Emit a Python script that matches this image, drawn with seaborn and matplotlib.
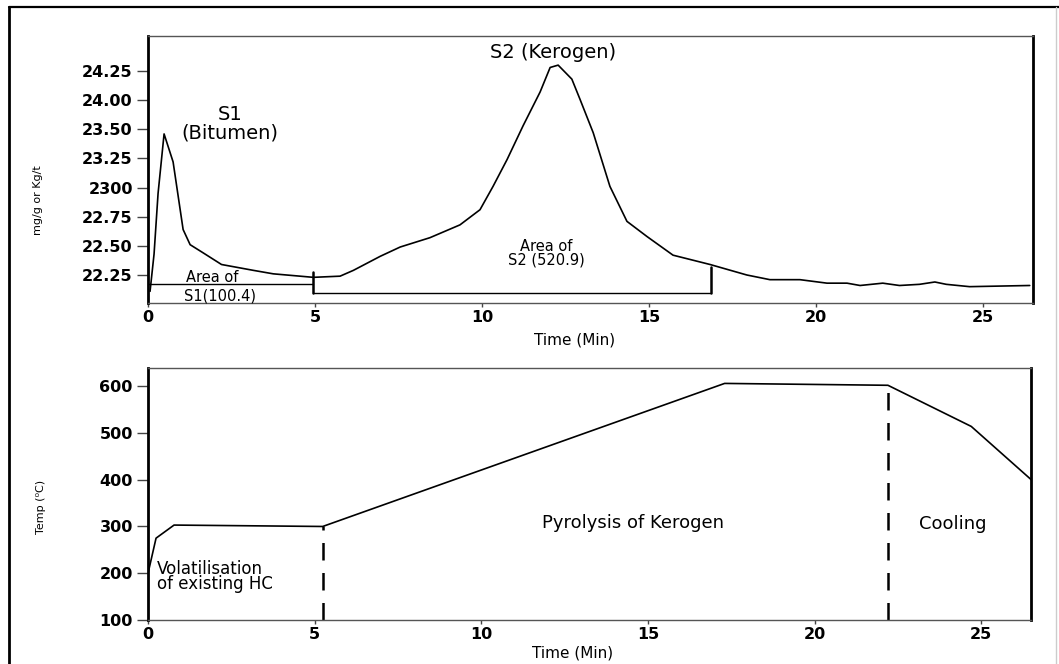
import numpy as np
import pandas as pd
import seaborn as sns
import matplotlib.pyplot as plt
from matplotlib.lines import Line2D

# --- data ---
# pyrolysis signal (top panel), y in axis units
time_sig = [0.06, 0.18, 0.30, 0.48, 0.75, 1.05, 1.26, 1.65, 2.2, 3.15, 3.75, 4.95,
            5.75, 6.15, 6.95, 7.55, 8.44, 9.34, 9.94, 10.33, 10.75, 11.23, 11.74,
            12.04, 12.28, 12.69, 12.93, 13.33, 13.83, 14.34, 14.94, 15.72, 16.83,
            17.93, 18.62, 19.52, 20.33, 20.93, 21.32, 22.0, 22.5, 23.1, 23.56,
            23.9, 24.6, 25.5, 26.4]
signal = [22.11, 22.43, 22.95, 23.46, 23.22, 22.64, 22.51, 22.44, 22.34, 22.29,
          22.26, 22.23, 22.24, 22.29, 22.41, 22.49, 22.57, 22.68, 22.81, 23.01,
          23.24, 23.53, 23.82, 24.03, 24.05, 23.93, 23.76, 23.47, 23.01, 22.71,
          22.58, 22.42, 22.34, 22.25, 22.21, 22.21, 22.18, 22.18, 22.16, 22.18,
          22.16, 22.17, 22.19, 22.17, 22.15, 22.155, 22.16]

sig_ticks = [22.25, 22.50, 22.75, 23.00, 23.25, 23.50, 23.75, 24.00]
sig_ticklabels = ["22.25", "22.50", "22.75", "2300", "23.25", "23.50", "24.00", "24.25"]

# integration brackets
s1_end, s2_end = 4.94, 16.86
s1_level, s2_level = 22.172, 22.095
s1_tick_top, s2_tick_top = 22.276, 22.32

# oven temperature programme (bottom panel)
time_temp = [0.0, 0.24, 0.78, 5.24, 17.3, 22.2, 24.7, 26.5]
temp = [200, 275, 303, 300, 606, 602, 514, 400]
phase_bounds = [5.24, 22.2]
phase_tops = [300, 602]

x_ticks = [0, 5, 10, 15, 20, 25]
temp_ticks = [100, 200, 300, 400, 500, 600]

sns.set_style("ticks")
plt.rcParams['font.family'] = ['DejaVu Sans']
plt.rcParams['text.color'] = 'black'
plt.rcParams['axes.labelcolor'] = 'black'
plt.rcParams['xtick.labelcolor'] = 'black'
plt.rcParams['ytick.labelcolor'] = 'black'

fig = plt.figure(figsize=(10.59, 6.64), dpi=100)
ax1 = fig.add_axes([0.1398, 0.5437, 0.8357, 0.4021])
ax2 = fig.add_axes([0.1398, 0.0663, 0.8340, 0.3795])

df_sig = pd.DataFrame({"time": time_sig, "signal": signal})
df_temp = pd.DataFrame({"time": time_temp, "temp": temp})

sns.lineplot(data=df_sig, x="time", y="signal", ax=ax1, color="black", lw=1.2)
sns.lineplot(data=df_temp, x="time", y="temp", ax=ax2, color="black", lw=1.2)

# brackets
ax1.plot([0, s1_end], [s1_level, s1_level], color="black", lw=1.0)
ax1.plot([s1_end, s1_end], [s2_level, s1_tick_top], color="black", lw=1.8)
ax1.plot([s1_end, s2_end], [s2_level, s2_level], color="black", lw=1.0)
ax1.plot([s2_end, s2_end], [s2_level, s2_tick_top], color="black", lw=1.8)

for xb, yt in zip(phase_bounds, phase_tops):
    ax2.plot([xb, xb], [100, yt], color="black", lw=1.8, dashes=(7, 5))

# annotations
tkw = dict(ha="center", va="center", color="black")
ax1.text(2.46, 23.545, "S1\n(Bitumen)", fontsize=14, linespacing=0.95, **tkw)
ax1.text(12.13, 24.16, "S2 (Kerogen)", fontsize=14, **tkw)
ax1.text(1.92, 22.228, "Area of", fontsize=10.5, **tkw)
ax1.text(2.16, 22.072, "S1(100.4)", fontsize=10.5, **tkw)
ax1.text(11.93, 22.435, "Area of\nS2 (520.9)", fontsize=10.5, linespacing=0.9, **tkw)

ax2.text(0.27, 193, "Volatilisation\nof existing HC", fontsize=12, linespacing=0.85,
         ha="left", va="center")
ax2.text(14.55, 308, "Pyrolysis of Kerogen", fontsize=13, **tkw)
ax2.text(24.13, 306, "Cooling", fontsize=13, **tkw)

# axes styling
for ax in (ax1, ax2):
    ax.set_xlim(0, 26.5)
    ax.set_xticks(x_ticks)
    ax.set_xticklabels([str(t) for t in x_ticks], fontweight="bold", fontsize=11.5)
    ax.tick_params(axis="x", length=3, width=1, color="#444", pad=2)
    ax.tick_params(axis="y", length=8, width=1, color="#444", pad=3)
    for s in ("left", "right"):
        ax.spines[s].set_visible(True)
        ax.spines[s].set_color("black")
        ax.spines[s].set_linewidth(2.0)
    for s in ("top", "bottom"):
        ax.spines[s].set_visible(True)
        ax.spines[s].set_color("#555")
        ax.spines[s].set_linewidth(1.0)

ax1.set_ylim(22.01, 24.30)
ax1.set_yticks(sig_ticks)
ax1.set_yticklabels(sig_ticklabels, fontweight="bold", fontsize=11.5)
ax1.set_xlabel("Time (Min)", fontsize=11)
ax1.set_ylabel("mg/g or Kg/t", fontsize=8)
ax1.xaxis.set_label_coords(0.482, -0.112)
ax1.yaxis.set_label_coords(-0.119, 0.386)

ax2.set_ylim(100, 639)
ax2.set_yticks(temp_ticks)
ax2.set_yticklabels([str(t) for t in temp_ticks], fontweight="bold", fontsize=11.5)
ax2.set_xlabel("Time (Min)", fontsize=11)
ax2.set_ylabel("Temp (\u2070C)", fontsize=8)
ax2.xaxis.set_label_coords(0.481, -0.103)
ax2.yaxis.set_label_coords(-0.116, 0.448)

# outer frame of the figure
fig.add_artist(Line2D([9 / 1059, 1.0], [1 - 7 / 664] * 2, transform=fig.transFigure,
                      color="black", lw=1.6))
fig.add_artist(Line2D([9 / 1059] * 2, [0.0, 1 - 7 / 664], transform=fig.transFigure,
                      color="black", lw=2.0))
fig.add_artist(Line2D([1056 / 1059] * 2, [0.0, 1 - 7 / 664], transform=fig.transFigure,
                      color="#cccccc", lw=1.0))

fig.savefig("out.png", dpi=100)
